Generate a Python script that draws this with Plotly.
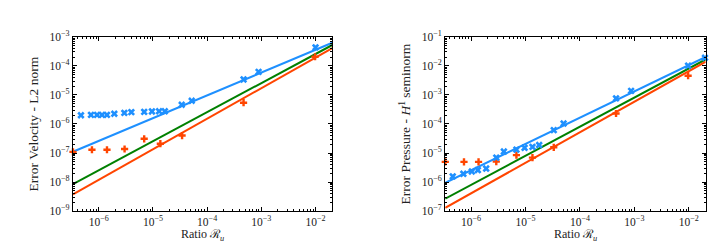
import numpy as np
import plotly.graph_objects as go

# ---------------- data ----------------
# Left panel: velocity error (L2 norm)
vel_blue_x = [4.7e-7, 7.2e-7, 9.3e-7, 1.15e-6, 1.42e-6, 1.94e-6, 2.97e-6, 4.0e-6, 6.9e-6,
              9.6e-6, 1.3e-5, 1.66e-5, 3.4e-5, 5.2e-5, 4.7e-4, 8.9e-4, 1.0e-2, 2.04e-2]
vel_blue_y = [2.0e-6, 2.05e-6, 2.05e-6, 2.05e-6, 2.05e-6, 2.25e-6, 2.4e-6, 2.55e-6, 2.6e-6,
              2.7e-6, 2.75e-6, 2.75e-6, 4.6e-6, 6.3e-6, 3.4e-5, 6.2e-5, 4.3e-4, 8.0e-4]
vel_red_x = [3.35e-7, 7.5e-7, 1.42e-6, 3.0e-6, 6.9e-6, 1.37e-5, 3.45e-5, 4.7e-4, 9.8e-3, 2.04e-2]
vel_red_y = [1.1e-7, 1.3e-7, 1.3e-7, 1.38e-7, 3.1e-7, 2.1e-7, 4.0e-7, 5.4e-6, 2.05e-4, 4.6e-4]
# fitted power laws y = C * x^p  (blue, green, red)
vel_fit_C = [0.0131, 0.0255, 0.0242]
vel_fit_p = [0.783, 1.0, 1.051]

# Right panel: pressure error (H1 seminorm)
pre_blue_x = [4.6e-7, 7.2e-7, 1.03e-6, 1.33e-6, 1.89e-6, 2.9e-6, 4.0e-6, 6.8e-6, 9.6e-6,
              1.34e-5, 1.78e-5, 3.3e-5, 5.0e-5, 4.6e-4, 8.7e-4, 9.7e-3, 1.98e-2]
pre_blue_y = [1.58e-6, 1.94e-6, 2.33e-6, 2.61e-6, 2.94e-6, 7.0e-6, 1.13e-5, 1.31e-5, 1.52e-5,
              1.63e-5, 1.9e-5, 6.15e-5, 1.04e-4, 7.6e-4, 1.38e-3, 1.01e-2, 1.89e-2]
pre_red_x = [3.35e-7, 7.4e-7, 1.37e-6, 2.9e-6, 6.8e-6, 1.34e-5, 3.3e-5, 4.6e-4, 9.7e-3, 2.04e-2]
pre_red_y = [5.0e-6, 5.0e-6, 5.0e-6, 5.1e-6, 8.5e-6, 7.0e-6, 1.58e-5, 2.3e-4, 4.57e-3, 1.5e-2]
pre_fit_C = [0.682, 0.81, 0.826]
pre_fit_p = [0.904, 1.0, 1.05]

x_tick_vals = [1e-6, 1e-5, 1e-4, 1e-3, 1e-2]
x_tick_text = ["10<sup>−6</sup>", "10<sup>−5</sup>", "10<sup>−4</sup>", "10<sup>−3</sup>", "10<sup>−2</sup>"]
vel_y_ticks = [1e-9, 1e-8, 1e-7, 1e-6, 1e-5, 1e-4, 1e-3]
vel_y_text = ["10<sup>−9</sup>", "10<sup>−8</sup>", "10<sup>−7</sup>", "10<sup>−6</sup>",
              "10<sup>−5</sup>", "10<sup>−4</sup>", "10<sup>−3</sup>"]
pre_y_ticks = [1e-7, 1e-6, 1e-5, 1e-4, 1e-3, 1e-2, 1e-1]
pre_y_text = ["10<sup>−7</sup>", "10<sup>−6</sup>", "10<sup>−5</sup>", "10<sup>−4</sup>",
              "10<sup>−3</sup>", "10<sup>−2</sup>", "10<sup>−1</sup>"]

x_title = "Ratio ℛ<sub><i>u</i></sub>"
vel_y_title = "Error Velocity - L2 norm"
pre_y_title = "Error Pressure - <i>H</i><sup>1</sup> seminorm"

BLUE = "#1E90FF"
GREEN = "#008000"
RED = "#FF4500"
FONT = "Liberation Serif"

fig = go.Figure()


def add_panel(bx, by, rx, ry, Cs, ps, xa, ya):
    allx = np.array(bx + rx)
    xl = np.array([allx.min(), allx.max()])
    for C, p, col in zip(Cs, ps, [BLUE, GREEN, RED]):
        fig.add_trace(go.Scatter(x=xl, y=C * xl ** p, mode="lines", xaxis=xa, yaxis=ya,
                                 line=dict(color=col, width=2), showlegend=False))
    fig.add_trace(go.Scatter(x=rx, y=ry, mode="markers", xaxis=xa, yaxis=ya,
                             marker=dict(symbol="cross", size=6, color=RED, line=dict(width=0)),
                             showlegend=False, cliponaxis=False))
    fig.add_trace(go.Scatter(x=bx, y=by, mode="markers", xaxis=xa, yaxis=ya,
                             marker=dict(symbol="x", size=6.5, color=BLUE, line=dict(width=0)),
                             showlegend=False, cliponaxis=False))
    return xl


xl1 = add_panel(vel_blue_x, vel_blue_y, vel_red_x, vel_red_y, vel_fit_C, vel_fit_p, "x", "y")
xl2 = add_panel(pre_blue_x, pre_blue_y, pre_red_x, pre_red_y, pre_fit_C, pre_fit_p, "x2", "y2")

axis_common = dict(type="log", showline=True, linecolor="black", linewidth=1.2, mirror="ticks",
                   ticks="inside", ticklen=4, tickwidth=1, tickcolor="black", showgrid=False,
                   zeroline=False, tickfont=dict(family=FONT, size=11.5, color="#222"),
                   minor=dict(ticks="inside", ticklen=2, tickcolor="black", dtick="D1", showgrid=False))

xtitle_font = dict(family=FONT, size=12, color="#222")
ytitle_font = dict(family=FONT, size=13.5, color="#222")

W, H = 718, 247
fig.update_layout(
    width=W, height=H, margin=dict(l=0, r=0, t=0, b=0),
    paper_bgcolor="white", plot_bgcolor="white",
    xaxis=dict(**axis_common, domain=[0.0905, 0.4517], anchor="y",
               range=[np.log10(xl1[0]), np.log10(xl1[1])],
               tickvals=x_tick_vals, ticktext=x_tick_text),
    yaxis=dict(**axis_common, domain=[0.162, 0.911], anchor="x", range=[-9, -3],
               tickvals=vel_y_ticks, ticktext=vel_y_text),
    xaxis2=dict(**axis_common, domain=[0.609, 0.9717], anchor="y2",
                range=[np.log10(xl2[0]), np.log10(xl2[1])],
                tickvals=x_tick_vals, ticktext=x_tick_text),
    yaxis2=dict(**axis_common, domain=[0.162, 0.911], anchor="x2", range=[-7, -1],
                tickvals=pre_y_ticks, ticktext=pre_y_text),
    annotations=[
        dict(text=x_title, x=194.5 / W, y=1 - 222 / H, xref="paper", yref="paper",
             xanchor="center", yanchor="top", showarrow=False, font=xtitle_font),
        dict(text=x_title, x=567.5 / W, y=1 - 222 / H, xref="paper", yref="paper",
             xanchor="center", yanchor="top", showarrow=False, font=xtitle_font),
        dict(text=vel_y_title, x=25 / W, y=1 - 115 / H, xref="paper", yref="paper",
             xanchor="center", yanchor="middle", textangle=-90, showarrow=False, font=ytitle_font),
        dict(text=pre_y_title, x=397 / W, y=1 - 115 / H, xref="paper", yref="paper",
             xanchor="center", yanchor="middle", textangle=-90, showarrow=False, font=ytitle_font),
    ],
)

fig.write_html("out.html")
